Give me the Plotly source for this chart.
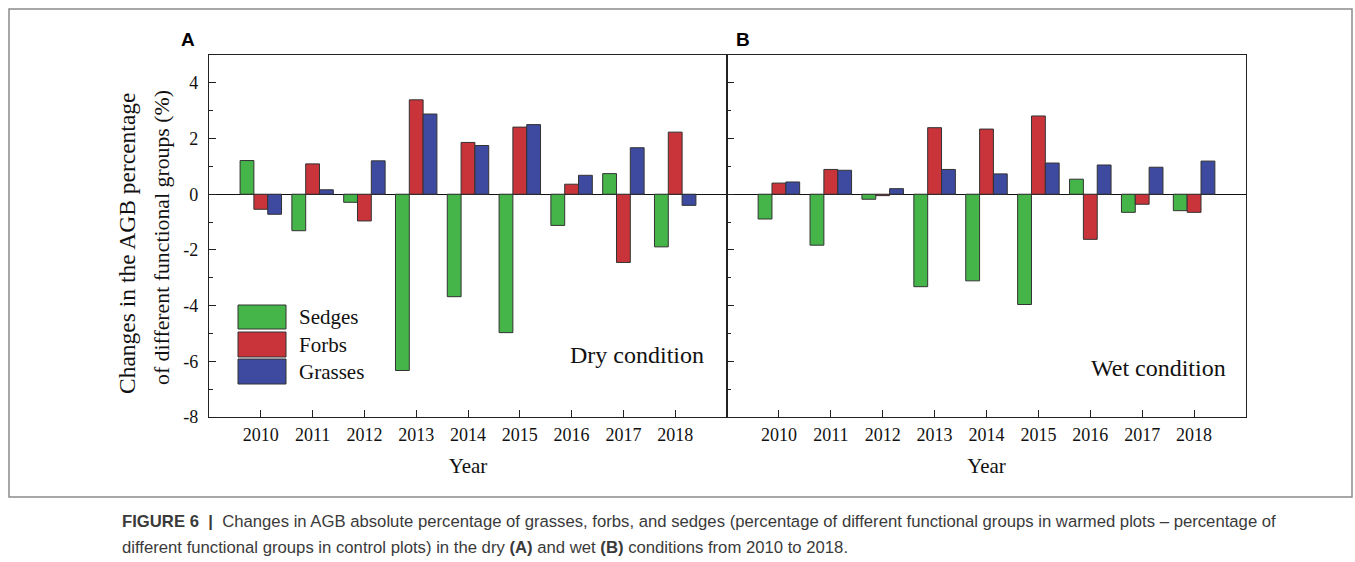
import plotly.graph_objects as go

years = [2010, 2011, 2012, 2013, 2014, 2015, 2016, 2017, 2018]
groups = ["Sedges", "Forbs", "Grasses"]
colors = ["#45b549", "#c9343a", "#3d4a9f"]

dry_sedges = [1.21, -1.31, -0.29, -6.33, -3.68, -4.97, -1.12, 0.74, -1.89]
dry_forbs = [-0.54, 1.09, -0.96, 3.39, 1.86, 2.41, 0.36, -2.45, 2.23]
dry_grasses = [-0.72, 0.16, 1.20, 2.88, 1.75, 2.50, 0.68, 1.67, -0.40]

wet_sedges = [-0.89, -1.83, -0.18, -3.32, -3.11, -3.96, 0.54, -0.65, -0.59]
wet_forbs = [0.40, 0.89, -0.05, 2.39, 2.34, 2.81, -1.62, -0.36, -0.65]
wet_grasses = [0.44, 0.86, 0.20, 0.89, 0.73, 1.12, 1.05, 0.97, 1.19]

y_ticks = [-8, -6, -4, -2, 0, 2, 4]
y_ticktext = ["-8", "-6", "-4", "-2", "0", "2", "4"]

W, H = 1355, 572
REF_H = 562
def px(x):
    return x / W
def py(y):
    return 1 - y / REF_H

fig = go.Figure()
for vals, name, col in zip([dry_sedges, dry_forbs, dry_grasses], groups, colors):
    fig.add_trace(go.Bar(x=years, y=vals, name=name, marker=dict(color=col, line=dict(color="#333333", width=1)),
                         xaxis="x", yaxis="y", showlegend=False, offsetgroup=name))
for vals, name, col in zip([wet_sedges, wet_forbs, wet_grasses], groups, colors):
    fig.add_trace(go.Bar(x=years, y=vals, name=name, marker=dict(color=col, line=dict(color="#333333", width=1)),
                         xaxis="x2", yaxis="y2", showlegend=False, offsetgroup=name))

serif = "Liberation Serif, Times New Roman, serif"
xcommon = dict(range=[2009, 2019], tickvals=years, ticks="inside", ticklen=7, tickcolor="#222",
               showline=True, linecolor="#222", linewidth=1.3, mirror=True, showgrid=False, zeroline=False,
               ticklabelstandoff=1,
               tickfont=dict(family=serif, size=18, color="#111"),
               title=dict(text="Year", font=dict(family=serif, size=21, color="#111"), standoff=14))
ycommon = dict(range=[-8, 5], tickvals=y_ticks, ticktext=y_ticktext, ticks="inside", ticklen=7, tickcolor="#222",
               showline=True, linecolor="#222", linewidth=1.3, mirror=True, showgrid=False,
               zeroline=True, zerolinecolor="#111", zerolinewidth=1.2,
               ticklabelstandoff=6,
               minor=dict(ticks="inside", ticklen=4, dtick=1, tick0=0, tickcolor="#222", showgrid=False),
               tickfont=dict(family=serif, size=18, color="#111"))

fig.update_layout(
    width=W, height=H, margin=dict(l=0, r=0, t=0, b=0),
    paper_bgcolor="white", plot_bgcolor="white",
    barmode="group", bargap=0.2, bargroupgap=0,
    xaxis=dict(domain=[px(209), px(727)], anchor="y", **xcommon),
    yaxis=dict(domain=[py(417), py(55)], anchor="x", **ycommon),
    xaxis2=dict(domain=[px(727), px(1246)], anchor="y2", **xcommon),
    yaxis2=dict(domain=[py(417), py(55)], anchor="x2", showticklabels=False, **ycommon),
)

def note(x, y, text, font, **kw):
    d = dict(x=px(x), y=py(y), xref="paper", yref="paper", text=text, showarrow=False,
             xanchor="center", yanchor="middle", font=font)
    d.update(kw)
    return d

ann = []
# y-axis title (two lines)
ann.append(note(127, 243, "Changes in the AGB percentage", dict(family=serif, size=23.5, color="#111"), textangle=-90))
ann.append(note(162, 238, "of different functional groups (%)", dict(family=serif, size=21.8, color="#111"), textangle=-90))
# panel labels
ann.append(note(188, 40, "<b>A</b>", dict(family="Liberation Sans, Arial", size=19, color="#000")))
ann.append(note(743, 40, "<b>B</b>", dict(family="Liberation Sans, Arial", size=19, color="#000")))
# condition labels
ann.append(note(637, 355, "Dry condition", dict(family=serif, size=24, color="#111")))
ann.append(note(1158, 368, "Wet condition", dict(family=serif, size=24, color="#111")))

# legend
shapes = []
leg_rows = [(305, 329), (332, 357), (359, 384)]
for (y0, y1), name, col in zip(leg_rows, groups, colors):
    shapes.append(dict(type="rect", xref="paper", yref="paper", x0=px(238), x1=px(286), y0=py(y1), y1=py(y0),
                       fillcolor=col, line=dict(color="#333333", width=1)))
    ann.append(note(297, (y0 + y1) / 2, name, dict(family=serif, size=21, color="#111"), xanchor="left"))

# outer frame
shapes.append(dict(type="rect", xref="paper", yref="paper", x0=px(9), x1=px(1352), y0=py(497), y1=py(9),
                   line=dict(color="#8a8a8a", width=1.5), fillcolor="rgba(0,0,0,0)", layer="below"))

# caption
sans = "Liberation Sans, Arial, sans-serif"
ann.append(note(120, 521,
                "<b>FIGURE 6</b>  <b>|</b>  Changes in AGB absolute percentage of grasses, forbs, and sedges (percentage of different functional groups in warmed plots – percentage of",
                dict(family=sans, size=16.7, color="#3a3a3a"), xanchor="left"))
ann.append(note(120, 547,
                "different functional groups in control plots) in the dry <b>(A)</b> and wet <b>(B)</b> conditions from 2010 to 2018.",
                dict(family=sans, size=16.7, color="#3a3a3a"), xanchor="left"))

fig.update_layout(annotations=ann, shapes=shapes)
fig.write_html("out.html",
               config={"displayModeBar": False},
               post_script=("document.documentElement.style.margin='0';document.body.style.margin='0';"
                            "document.body.style.overflow='hidden';"
                            "var gd=document.getElementById('{plot_id}');"
                            "gd.style.position='fixed';gd.style.top='0px';gd.style.left='0px';"))
